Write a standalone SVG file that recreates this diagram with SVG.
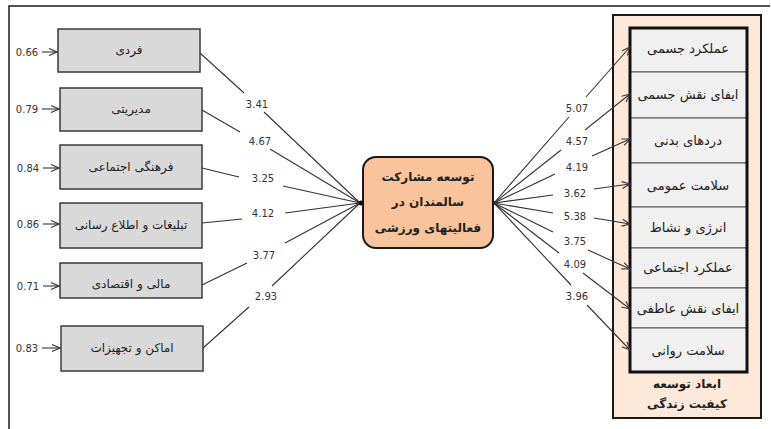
<svg xmlns="http://www.w3.org/2000/svg" width="771" height="429" viewBox="0 0 771 429">
<style>
.bg{fill:#ffffff}
.frame{stroke:#1a1a1a;stroke-width:1.5;fill:none}
.lbox{fill:#d9d9d9;stroke:#3a3a3a;stroke-width:1.5}
.cell{fill:#f0f0f0;stroke:#555;stroke-width:1}
.ln{stroke:#333;stroke-width:1.1;fill:none}
.num{font-family:"DejaVu Sans",Verdana,sans-serif;font-size:10px;fill:#333;text-anchor:middle}
.fa{font-family:"DejaVu Sans","Noto Sans",sans-serif;font-size:12px;fill:#222;text-anchor:middle}
.fc{font-family:"DejaVu Sans","Noto Sans",sans-serif;font-size:13px;fill:#222;text-anchor:middle}
.fab{font-family:"DejaVu Sans","Noto Sans",sans-serif;font-size:12px;font-weight:bold;fill:#222;text-anchor:middle}
</style>
<defs>
<marker id="ah" viewBox="0 0 10 8" refX="9" refY="4" markerWidth="10" markerHeight="8" markerUnits="userSpaceOnUse" orient="auto">
<path d="M1,0.5 L9,4 L1,7.5" fill="none" stroke="#333" stroke-width="1.1"/>
</marker>
</defs>
<rect class="bg" x="0" y="0" width="771" height="429"/>
<path class="frame" d="M9,429 L9,6 L770,6"/>

<g id="panel-right">
<rect x="613" y="15" width="148" height="403" fill="#fde9d9" stroke="#1a1a1a" stroke-width="2"/>
<text class="fab" x="687" y="388">ابعاد توسعه</text>
<text class="fab" x="687" y="408">کیفیت زندگی</text>
</g>

<g id="cells">
<g id="c1"><rect class="cell" x="630" y="28" width="117" height="44"/><text class="fc" x="688" y="53">عملکرد جسمی</text></g>
<g id="c2"><rect class="cell" x="630" y="72" width="117" height="46"/><text class="fc" x="688" y="99">ایفای نقش جسمی</text></g>
<g id="c3"><rect class="cell" x="630" y="118" width="117" height="45"/><text class="fc" x="688" y="145">دردهای بدنی</text></g>
<g id="c4"><rect class="cell" x="630" y="163" width="117" height="44"/><text class="fc" x="688" y="190">سلامت عمومی</text></g>
<g id="c5"><rect class="cell" x="630" y="207" width="117" height="41"/><text class="fc" x="688" y="232">انرژی و نشاط</text></g>
<g id="c6"><rect class="cell" x="630" y="248" width="117" height="40"/><text class="fc" x="688" y="272">عملکرد اجتماعی</text></g>
<g id="c7"><rect class="cell" x="630" y="288" width="117" height="40"/><text class="fc" x="688" y="313">ایفای نقش عاطفی</text></g>
<g id="c8"><rect class="cell" x="630" y="328" width="117" height="44"/><text class="fc" x="688" y="355">سلامت روانی</text></g>
<rect x="630" y="28" width="117" height="344" fill="none" stroke="#111" stroke-width="3"/>
</g>

<g id="n1"><rect class="lbox" x="58" y="29" width="142" height="43"/><text class="fa" x="129" y="54">فردی</text></g>
<g id="n2"><rect class="lbox" x="60" y="88" width="142" height="43"/><text class="fa" x="131" y="113">مدیریتی</text></g>
<g id="n3"><rect class="lbox" x="60" y="145" width="142" height="44"/><text class="fa" x="131" y="171">فرهنگی اجتماعی</text></g>
<g id="n4"><rect class="lbox" x="60" y="203" width="142" height="45"/><text class="fa" x="131" y="229">تبلیغات و اطلاع رسانی</text></g>
<g id="n5"><rect class="lbox" x="60" y="263" width="142" height="35"/><text class="fa" x="131" y="288">مالی و اقتصادی</text></g>
<g id="n6"><rect class="lbox" x="61" y="326" width="142" height="45"/><text class="fa" x="132" y="352">اماکن و تجهیزات</text></g>

<g id="center">
<rect x="363" y="157" width="130" height="91" rx="13" ry="13" fill="#f9c39b" stroke="#1a1a1a" stroke-width="2"/>
<text class="fab" x="428" y="181">توسعه مشارکت</text>
<text class="fab" x="428" y="206">سالمندان در</text>
<text class="fab" x="428" y="232">فعالیتهای ورزشی</text>
</g>

<g id="connectors">
<line class="ln" x1="42" y1="52" x2="57" y2="52" marker-end="url(#ah)"/>
<line class="ln" x1="42" y1="109" x2="59" y2="109" marker-end="url(#ah)"/>
<line class="ln" x1="43" y1="168" x2="59" y2="168" marker-end="url(#ah)"/>
<line class="ln" x1="43" y1="224" x2="59" y2="224" marker-end="url(#ah)"/>
<line class="ln" x1="43" y1="286" x2="59" y2="286" marker-end="url(#ah)"/>
<line class="ln" x1="42" y1="348" x2="60" y2="348" marker-end="url(#ah)"/>
<text class="num" x="27" y="56">0.66</text>
<text class="num" x="27" y="113">0.79</text>
<text class="num" x="28" y="172">0.84</text>
<text class="num" x="28" y="228">0.86</text>
<text class="num" x="28" y="290">0.71</text>
<text class="num" x="27" y="352">0.83</text>

<line class="ln" x1="200" y1="53" x2="244" y2="93"/>
<line class="ln" x1="264" y1="112" x2="360" y2="203"/>
<line class="ln" x1="202" y1="110" x2="240" y2="132"/>
<line class="ln" x1="270" y1="149" x2="360" y2="203"/>
<line class="ln" x1="202" y1="168" x2="239" y2="177"/>
<line class="ln" x1="283" y1="186" x2="360" y2="203"/>
<line class="ln" x1="202" y1="223" x2="242" y2="219"/>
<line class="ln" x1="285" y1="213" x2="360" y2="203"/>
<line class="ln" x1="202" y1="285" x2="247" y2="263"/>
<line class="ln" x1="285" y1="243" x2="360" y2="203"/>
<line class="ln" x1="203" y1="348" x2="249" y2="307"/>
<line class="ln" x1="272" y1="286" x2="360" y2="203"/>
<circle cx="361" cy="203" r="2.5" fill="#111"/>
<text class="num" x="257" y="108">3.41</text>
<text class="num" x="260" y="145">4.67</text>
<text class="num" x="263" y="182">3.25</text>
<text class="num" x="263" y="217">4.12</text>
<text class="num" x="264" y="259">3.77</text>
<text class="num" x="266" y="300">2.93</text>

<circle cx="494" cy="203" r="2" fill="#111"/>
<line class="ln" x1="494" y1="203" x2="569" y2="117"/>
<line class="ln" x1="586" y1="97" x2="630" y2="47" marker-end="url(#ah)"/>
<line class="ln" x1="494" y1="203" x2="561" y2="150"/>
<line class="ln" x1="585" y1="130" x2="630" y2="94" marker-end="url(#ah)"/>
<line class="ln" x1="494" y1="203" x2="555" y2="174"/>
<line class="ln" x1="592" y1="156" x2="630" y2="139" marker-end="url(#ah)"/>
<line class="ln" x1="494" y1="203" x2="553" y2="195"/>
<line class="ln" x1="594" y1="189" x2="630" y2="184" marker-end="url(#ah)"/>
<line class="ln" x1="494" y1="203" x2="553" y2="213"/>
<line class="ln" x1="594" y1="218" x2="630" y2="224" marker-end="url(#ah)"/>
<line class="ln" x1="494" y1="203" x2="553" y2="232"/>
<line class="ln" x1="588" y1="250" x2="630" y2="269" marker-end="url(#ah)"/>
<line class="ln" x1="494" y1="203" x2="559" y2="253"/>
<line class="ln" x1="583" y1="273" x2="630" y2="309" marker-end="url(#ah)"/>
<line class="ln" x1="494" y1="203" x2="571" y2="285"/>
<line class="ln" x1="587" y1="305" x2="630" y2="350" marker-end="url(#ah)"/>
<text class="num" x="577" y="112">5.07</text>
<text class="num" x="577" y="145">4.57</text>
<text class="num" x="577" y="171">4.19</text>
<text class="num" x="575" y="197">3.62</text>
<text class="num" x="575" y="220">5.38</text>
<text class="num" x="575" y="245">3.75</text>
<text class="num" x="575" y="268">4.09</text>
<text class="num" x="577" y="300">3.96</text>
</g>
</svg>
